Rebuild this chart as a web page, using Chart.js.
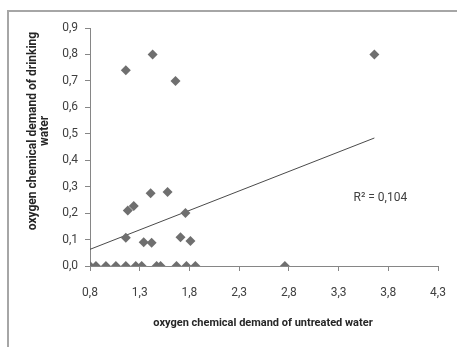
<!DOCTYPE html>
<html>
<head>
<meta charset="utf-8">
<script src="https://cdn.jsdelivr.net/npm/chart.js@4.4.1/dist/chart.umd.min.js"></script>
<style>
  html, body { margin: 0; padding: 0; background: #fff; }
  #wrap { position: relative; width: 457px; height: 347px; overflow: hidden; }
  #frame { position: absolute; left: 7px; top: 10px; width: 470px; height: 360px;
           border-top: 2px solid #a6a6a6; border-left: 2px solid #a6a6a6; }
  #chart { position: absolute; left: 0; top: 0; }
</style>
</head>
<body>
<div id="wrap">
  <div id="frame"></div>
  <canvas id="chart" width="457" height="347"></canvas>
</div>
<script>
// Data
const untreated = [0.8, 0.86, 0.96, 1.06, 1.16, 1.26, 1.32, 1.47, 1.51, 1.67, 1.77, 1.86, 2.76,
                   1.16, 1.43, 1.66, 3.66,
                   1.18, 1.24, 1.41, 1.58, 1.76,
                   1.16, 1.34, 1.42, 1.71, 1.81];
const drinking  = [0, 0, 0, 0, 0, 0, 0, 0, 0, 0, 0, 0, 0,
                   0.74, 0.80, 0.70, 0.80,
                   0.21, 0.227, 0.275, 0.28, 0.20,
                   0.107, 0.09, 0.088, 0.109, 0.095];

// Trend line end points (as drawn)
const trendX = [0.8, 3.66];
const trendY = [0.063, 0.484];

const xTicks = [0.8, 1.3, 1.8, 2.3, 2.8, 3.3, 3.8, 4.3];
const yTicks = [0, 0.1, 0.2, 0.3, 0.4, 0.5, 0.6, 0.7, 0.8, 0.9];

const rSquaredText = 'R² = 0,104';
const rSquaredAt = { x: 3.45, y: 0.258 };

const xTitle = 'oxygen chemical demand of untreated water';
const yTitle = ['oxygen chemical demand of drinking', 'water'];

const tickFont = 'Roboto, sans-serif';
const axisColor = '#868686';

const points = untreated.map((x, i) => ({ x: x, y: drinking[i] }));
const trend = trendX.map((x, i) => ({ x: x, y: trendY[i] }));

// titles and R² label
const textPlugin = {
    id: 'texts',
    afterDraw(chart) {
        const c = chart.ctx;
        const xs = chart.scales.x, ys = chart.scales.y;
        c.save();
        c.fillStyle = '#404040';
        c.font = '12px ' + tickFont;
        c.textAlign = 'left';
        c.textBaseline = 'middle';
        c.fillText(rSquaredText, xs.getPixelForValue(rSquaredAt.x), ys.getPixelForValue(rSquaredAt.y));

        c.fillStyle = '#262626';
        c.font = 'bold 11px ' + tickFont;
        c.textAlign = 'center';
        c.fillText(xTitle, 263, 323);

        c.font = 'bold 12px ' + tickFont;
        c.translate(33, 131);
        c.rotate(-Math.PI / 2);
        c.fillText(yTitle[0], 0, 0);
        c.fillText(yTitle[1], 0, 12);
        c.restore();
    }
};

new Chart(document.getElementById('chart'), {
    type: 'scatter',
    data: {
        datasets: [{
            data: points,
            pointStyle: 'rectRot',
            pointRadius: 5,
            backgroundColor: '#6f6f6f',
            borderColor: '#6f6f6f',
            borderWidth: 0,
            order: 1
        }, {
            data: trend,
            showLine: true,
            pointRadius: 0,
            borderColor: '#4a4a4a',
            borderWidth: 1,
            order: 2
        }]
    },
    options: {
        responsive: false,
        animation: false,
        layout: { padding: { left: 0, top: 28, right: 19, bottom: 0 } },
        plugins: { legend: { display: false }, tooltip: { enabled: false } },
        scales: {
            x: {
                type: 'linear',
                min: 0.8, max: 4.3,
                afterBuildTicks: s => { s.ticks = xTicks.map(v => ({ value: v })); },
                afterFit: s => { s.height = 81; s.paddingLeft = 0; s.paddingRight = 0; },
                border: { color: axisColor, width: 1 },
                grid: { drawOnChartArea: false, drawTicks: true, tickLength: 5, color: axisColor },
                ticks: {
                    padding: 15, color: '#404040',
                    font: { family: tickFont, size: 12 },
                    callback: v => v.toFixed(1).replace('.', ',')
                }
            },
            y: {
                min: 0, max: 0.9,
                afterBuildTicks: s => { s.ticks = yTicks.map(v => ({ value: v })); },
                afterFit: s => { s.width = 90; s.paddingTop = 0; s.paddingBottom = 0; },
                border: { color: axisColor, width: 1 },
                grid: { drawOnChartArea: false, drawTicks: true, tickLength: 5, color: axisColor },
                ticks: {
                    padding: 7, color: '#404040',
                    font: { family: tickFont, size: 12 },
                    callback: v => v.toFixed(1).replace('.', ',')
                }
            }
        }
    },
    plugins: [textPlugin]
});
</script>
</body>
</html>
